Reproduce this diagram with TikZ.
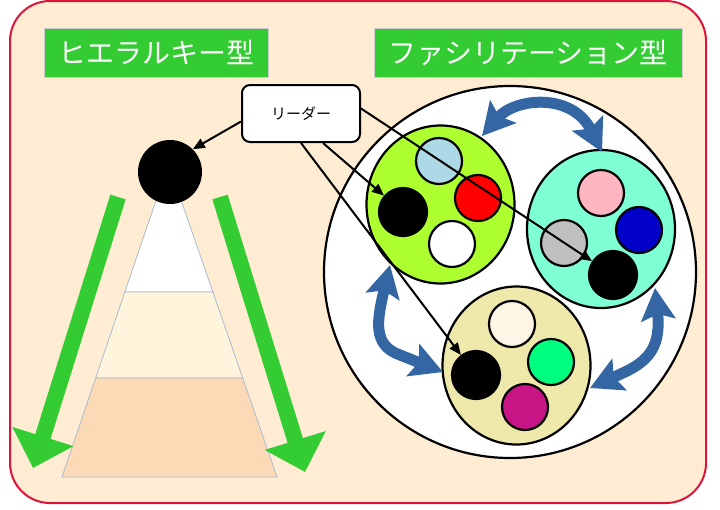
\documentclass[tikz,border=0pt]{standalone}
\usepackage{fontspec}
\setmainfont{Noto Sans CJK JP}
\usepackage{tikz}
\usetikzlibrary{shapes.geometric}
\usetikzlibrary{arrows.meta}
\usetikzlibrary{calc}

\definecolor{bgcream}{RGB}{255,236,211}
\definecolor{framered}{RGB}{220,20,60}
\definecolor{titlegreen}{RGB}{51,204,51}
\definecolor{swapblue}{RGB}{52,102,164}
\definecolor{layermid}{RGB}{255,245,220}
\definecolor{layerlow}{RGB}{253,218,182}
\definecolor{layerline}{RGB}{170,186,206}
\definecolor{grpyellow}{RGB}{173,255,47}
\definecolor{grpaqua}{RGB}{127,255,212}
\definecolor{grpkhaki}{RGB}{238,232,170}

\begin{document}
\begin{tikzpicture}[x=1pt, y=-1pt,
    title/.style={fill=titlegreen, draw=gray!40, text=white, minimum height=49pt, inner sep=0pt, font=\fontsize{28}{32}\selectfont},
    member/.style={circle, draw=black, line width=2.2pt, minimum size=46pt, inner sep=0pt},
    chief/.style={circle, draw=black, fill=black, line width=2.2pt, minimum size=48pt, inner sep=0pt},
    group/.style={ellipse, draw=black, line width=2.2pt, minimum width=148pt, minimum height=158pt, inner sep=0pt},
    flow/.style={line width=16pt, draw=titlegreen, -{Triangle[length=33pt, width=62pt]}},
    swap/.style={line width=11pt, draw=swapblue, {Stealth[length=32pt, width=34pt, inset=6pt]}-{Stealth[length=32pt, width=34pt, inset=6pt]}},
    point/.style={line width=2pt, -{Triangle[length=12pt, width=10pt]}}]
    \useasboundingbox (0,0) rectangle (720,509);

    % frame and titles
    \draw [framered, fill=bgcream, line width=2pt, rounded corners=40pt] (10,1) rectangle (706,503);
    \node [title, minimum width=224pt] (hiertitle) at (156,52.5) {ヒエラルキー型};
    \node [title, minimum width=308pt] (factitle) at (528,52.5) {ファシリテーション型};

    % pyramid
    \coordinate (apex) at (168.5,164);
    \draw [layerline, fill=white, line width=0.8pt] (apex) -- (124.8,292) -- (212.9,292) -- cycle;
    \draw [layerline, fill=layermid, line width=0.8pt] (124.8,292) -- (212.9,292) -- (242.7,378) -- (95.7,378) -- cycle;
    \draw [layerline, fill=layerlow, line width=0.8pt] (95.7,378) -- (242.7,378) -- (277,477) -- (62,477) -- cycle;
    \draw [flow] (118,197) -- (33,468);
    \draw [flow] (220,197) -- (305,472);
    \node [circle, fill=black, minimum size=64pt, inner sep=0pt] (boss) at (170,172) {};

    % team
    \node [circle, draw=black, fill=white, line width=2.2pt, minimum size=372pt, inner sep=0pt] (team) at (510,272) {};
    \node [group, fill=grpyellow] (grpA) at (440.5,204.5) {};
    \node [group, fill=grpaqua] (grpB) at (601,229) {};
    \node [group, fill=grpkhaki] (grpC) at (516.5,365.5) {};

    \node [member, fill={rgb,255:red,173;green,216;blue,230}] (a1) at (439,161) {};
    \node [member, fill=red] (a2) at (478,198) {};
    \node [member, fill=white] (a3) at (452,244) {};
    \node [chief] (bossA) at (403,212) {};

    \node [member, fill={rgb,255:red,255;green,182;blue,193}] (b1) at (601,193) {};
    \node [member, fill={rgb,255:red,0;green,0;blue,200}] (b2) at (639,230) {};
    \node [member, fill={rgb,255:red,192;green,192;blue,192}] (b3) at (564,243) {};
    \node [chief] (bossB) at (613,275) {};

    \node [member, fill={rgb,255:red,253;green,245;blue,230}] (c1) at (512,324) {};
    \node [member, fill={rgb,255:red,0;green,255;blue,127}] (c2) at (551,362) {};
    \node [member, fill={rgb,255:red,199;green,21;blue,133}] (c3) at (525,407) {};
    \node [chief] (bossC) at (476,375) {};

    % exchange between groups
    \draw [swap] (482,136) .. controls (515,98) and (572,92) .. (602,152);
    \draw [swap] (390,265) .. controls (377,320) and (372,345) .. (400,355) -- (443,372);
    \draw [swap] (590,388) -- (625,372) .. controls (650,360) and (661,345) .. (655,288);

    % leader
    \node [draw=black, fill=white, line width=2pt, rounded corners=8pt, minimum width=118pt, minimum height=57pt, font=\fontsize{15}{18}\selectfont] (leader) at (301,113.5) {リーダー};
    \draw [point] ([yshift=-8pt]leader.west) -- (boss.45);
    \draw [point] (leader.south) -- (bossC);
    \draw [point] ([xshift=22pt]leader.south) -- (bossA);
    \draw [point] ([yshift=5pt]leader.east) -- (bossB);
\end{tikzpicture}
\end{document}
